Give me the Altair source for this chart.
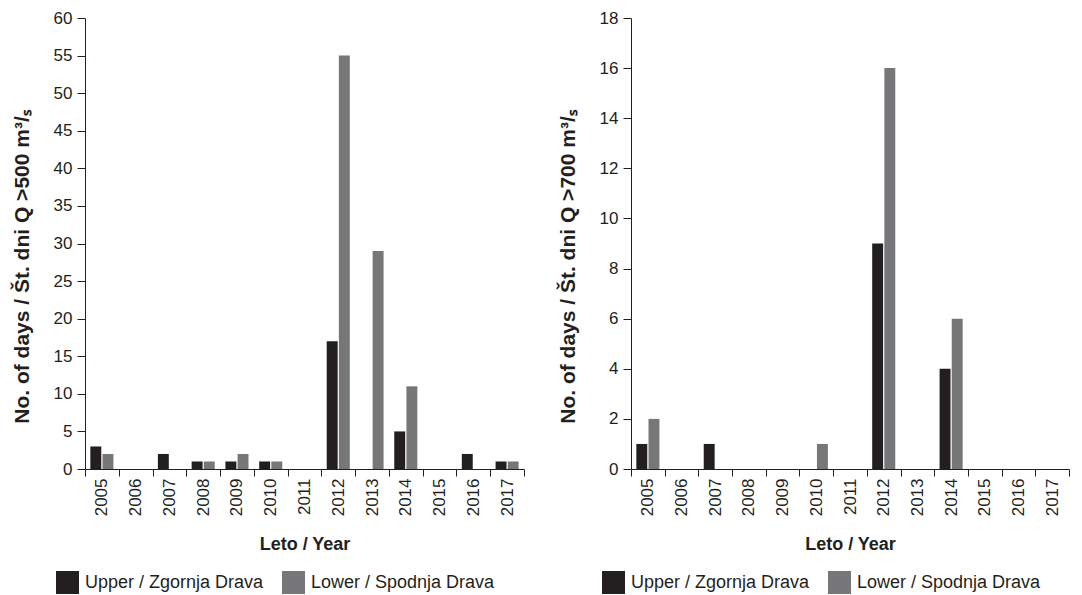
import altair as alt
import pandas as pd

years = [str(y) for y in range(2005, 2018)]
series = ["Upper / Zgornja Drava", "Lower / Spodnja Drava"]
upper_500 = [3, 0, 2, 1, 1, 1, 0, 17, 0, 5, 0, 2, 1]
lower_500 = [2, 0, 0, 1, 2, 1, 0, 55, 29, 11, 0, 0, 1]
upper_700 = [1, 0, 1, 0, 0, 0, 0, 9, 0, 4, 0, 0, 0]
lower_700 = [2, 0, 0, 0, 0, 1, 0, 16, 0, 6, 0, 0, 0]
colors = ["#231f20", "#77777a"]
FONT = "Liberation Sans"
INK = "#231f20"


def make_df(up, lo):
    rows = []
    for y, u, l in zip(years, up, lo):
        rows.append({"year": y, "series": series[0], "days": u})
        rows.append({"year": y, "series": series[1], "days": l})
    return pd.DataFrame(rows)


def panel(df, ymax, step, title, width):
    return alt.Chart(df).mark_bar().encode(
        x=alt.X("year:N", sort=years,
                scale=alt.Scale(paddingInner=0, paddingOuter=0),
                axis=alt.Axis(title="Leto / Year", labelAngle=-90, labelFontSize=17,
                              labelFont=FONT, labelColor=INK, labelPadding=2,
                              tickBand="extent", tickSize=7, tickColor=INK, grid=False,
                              domainColor=INK, titleFont=FONT, titleFontSize=18,
                              titleFontWeight="bold", titleColor=INK, titlePadding=20,
                              labelBaseline="middle", labelAlign="right")),
        xOffset=alt.XOffset("series:N", sort=series,
                            scale=alt.Scale(paddingInner=0.1, paddingOuter=0.44)),
        y=alt.Y("days:Q", scale=alt.Scale(domain=[0, ymax], nice=False),
                axis=alt.Axis(title=title, values=list(range(0, ymax + 1, step)),
                              grid=False, labelFontSize=17, labelFont=FONT,
                              labelColor=INK, tickSize=8, tickColor=INK,
                              domainColor=INK, titleFont=FONT, titleFontSize=21,
                              titleFontWeight="bold", titleColor=INK, titleY=248,
                              titlePadding=21, labelPadding=5)),
        color=alt.Color("series:N", sort=series,
                        scale=alt.Scale(domain=series, range=colors),
                        legend=alt.Legend(title=None, orient="none", direction="horizontal",
                                          legendX=-29, legendY=553, symbolType="square",
                                          symbolSize=529, symbolStrokeWidth=0,
                                          labelFontSize=18, labelFont=FONT, labelLimit=400,
                                          labelColor=INK, columnPadding=18,
                                          labelOffset=6)),
    ).properties(width=width, height=451)


left = panel(make_df(upper_500, lower_500), 60, 5,
             "No. of days / Št. dni Q >500 m³/ₛ", 439)
right = panel(make_df(upper_700, lower_700), 18, 2,
              "No. of days / Št. dni Q >700 m³/ₛ", 438)

chart = alt.hconcat(left, right, spacing=32).resolve_scale(
    color="independent").resolve_legend(color="independent").configure(
    padding={"left": 3, "top": 1, "right": 0, "bottom": 0}).configure_view(
    strokeWidth=0, stroke="transparent")

chart.save("out.html", embed_options={"renderer": "svg", "actions": False})
